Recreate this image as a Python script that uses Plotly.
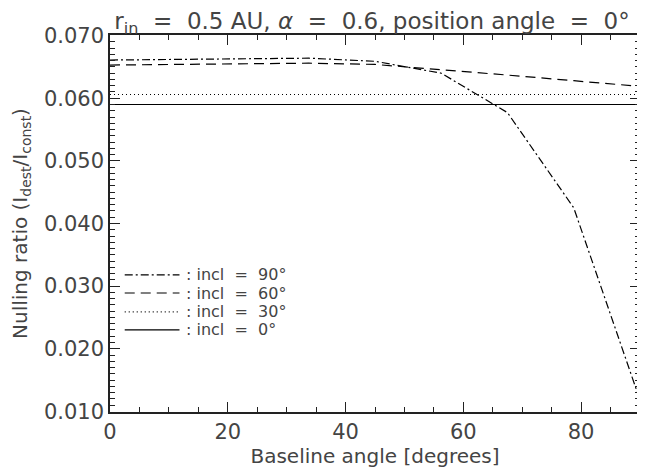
import plotly.graph_objects as go

# Data
baseline_angle = [0, 11.25, 22.5, 33.75, 45, 56.25, 67.5, 78.75, 90]
incl_90 = [0.0661, 0.0662, 0.0663, 0.0664, 0.0659, 0.0640, 0.0577, 0.0425, 0.0118]
incl_60 = [0.0653, 0.0654, 0.0655, 0.0656, 0.0654, 0.0646, 0.0637, 0.0628, 0.0619]
incl_30 = [0.0606] * 9
incl_0 = [0.0590] * 9

labels = [": incl = 90°", ": incl = 60°", ": incl = 30°", ": incl = 0°"]
dashes = ["8px,3px,2px,3px", "10px,6px", "1px,3px", "solid"]
series = [incl_90, incl_60, incl_30, incl_0]

FONT = "DejaVu Sans"
TXT = "#444444"
NB = "\u00a0"

# page body has an 8px margin; compensate so the plot lands where the reference has it
W, H = 636, 464
OFF = 8
PL, PR, PT, PB = 110, 642, 35, 412

fig = go.Figure()
for ys, d, lab in zip(series, dashes, labels):
    fig.add_trace(go.Scatter(x=baseline_angle, y=ys, mode="lines",
                             line=dict(color="black", width=1.2, dash=d),
                             name=lab, showlegend=False))

# manual legend (IDL style)
leg_y = [0.0318, 0.0289, 0.0259, 0.0230]
for ly, d, lab in zip(leg_y, dashes, labels):
    fig.add_shape(type="line", xref="x", yref="y", x0=2.5, x1=11.8, y0=ly, y1=ly,
                  line=dict(color="black", width=1.2, dash=d))
    fig.add_annotation(x=12.6, y=ly, xref="x", yref="y",
                       text=lab.replace(" = ", NB + " =" + NB + " "),
                       showarrow=False, xanchor="left", yanchor="middle",
                       font=dict(family=FONT, size=16, color=TXT))

axis_common = dict(showline=True, linecolor="#222", linewidth=1.5, mirror="allticks",
                   ticks="inside", ticklen=10, tickwidth=1.2, tickcolor="#222",
                   showgrid=False, zeroline=False,
                   tickfont=dict(family=FONT, size=21, color=TXT))

fig.update_xaxes(range=[0, 90], tickvals=[0, 20, 40, 60, 80],
                 minor=dict(ticks="inside", ticklen=5, dtick=5, tickcolor="#222", tickwidth=1),
                 title=dict(text="Baseline angle [degrees]", font=dict(family=FONT, size=20, color=TXT),
                            standoff=4),
                 **axis_common)
fig.update_yaxes(range=[0.0099, 0.0701], tickvals=[0.01, 0.02, 0.03, 0.04, 0.05, 0.06, 0.07],
                 tickformat=".3f",
                 minor=dict(ticks="inside", ticklen=5, dtick=0.001, tickcolor="#222", tickwidth=1),
                 title=dict(text="Nulling ratio (I<sub>dest</sub>/I<sub>const</sub>)",
                            font=dict(family=FONT, size=20, color=TXT), standoff=12),
                 **axis_common)

title_text = ("r<sub>in</sub>" + NB + " =" + NB + " 0.5 AU, <i>α</i>" + NB + " =" + NB +
              " 0.6, position angle" + NB + " =" + NB + " 0°")

fig.update_layout(
    width=W, height=H,
    margin=dict(l=PL - OFF, r=OFF + W - PR, t=PT - OFF, b=OFF + H - PB),
    paper_bgcolor="white", plot_bgcolor="white",
    title=dict(text=title_text,
               x=((PL + PR) / 2 - 4 - OFF) / W, xanchor="center",
               y=1 - (21 - OFF) / H, yanchor="middle",
               font=dict(family=FONT, size=23, color=TXT)),
)

fig.write_html("out.html")
